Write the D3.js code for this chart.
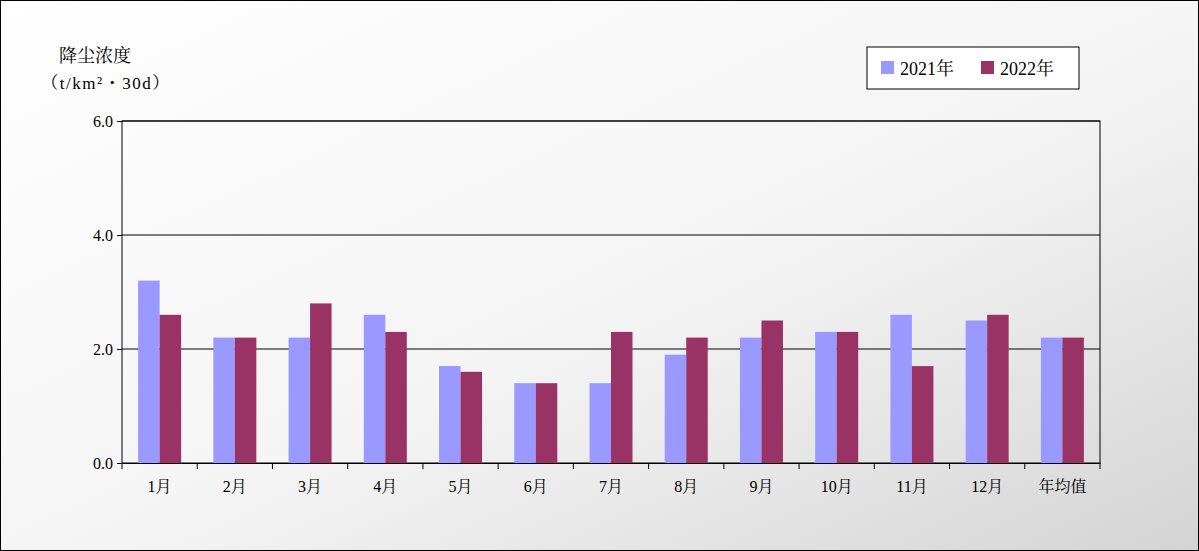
<!DOCTYPE html>
<html><head><meta charset="utf-8">
<script src="https://cdn.jsdelivr.net/npm/d3@7"></script>
<style>body{margin:0;background:#fff}svg{display:block}text{font-family:"Liberation Serif","Noto Serif CJK SC","Noto Sans CJK SC",serif}</style>
</head><body><svg width="1199" height="551"></svg>
<script>
const categories = ["1月","2月","3月","4月","5月","6月","7月","8月","9月","10月","11月","12月","年均值"];
const values2021 = [3.2,2.2,2.2,2.6,1.7,1.4,1.4,1.9,2.2,2.3,2.6,2.5,2.2];
const values2022 = [2.6,2.2,2.8,2.3,1.6,1.4,2.3,2.2,2.5,2.3,1.7,2.6,2.2];
const seriesNames = ["2021年","2022年"];
const colors = ["#9999FF","#993366"];
const yTicks = [0,2,4,6];

const svg = d3.select("svg");
const defs = svg.append("defs");
const grad = defs.append("linearGradient").attr("id","bg").attr("x1","0").attr("y1","0").attr("x2","1").attr("y2","1");
grad.append("stop").attr("offset","0%").attr("stop-color","#ffffff");
grad.append("stop").attr("offset","55%").attr("stop-color","#f4f4f4");
grad.append("stop").attr("offset","100%").attr("stop-color","#d4d4d4");
svg.append("rect").attr("x",0.5).attr("y",0.5).attr("width",1198).attr("height",550)
  .attr("fill","url(#bg)").attr("stroke","#000");

const m = {left:122, right:1100, top:121, bottom:463};
const x = d3.scaleBand().domain(categories).range([m.left,m.right]);
const y = d3.scaleLinear().domain([0,6]).range([m.bottom,m.top]);
const bw = 21.5;

svg.append("rect").attr("x",m.left).attr("y",m.top).attr("width",m.right-m.left).attr("height",m.bottom-m.top)
  .attr("fill","none").attr("stroke","#000");
svg.selectAll(".grid").data(yTicks.slice(1)).join("line")
  .attr("x1",m.left).attr("x2",m.right).attr("y1",d=>y(d)).attr("y2",d=>y(d)).attr("stroke","#000");

[values2021, values2022].forEach((vals,si)=>{
  svg.append("g").selectAll("rect").data(vals).join("rect")
    .attr("x",(d,i)=>x(categories[i])+x.bandwidth()/2-bw+si*bw)
    .attr("y",d=>y(d)).attr("width",bw).attr("height",d=>y(0)-y(d))
    .attr("fill",colors[si]);
});

const yAxis = svg.append("g").attr("transform",`translate(${m.left},0)`)
  .call(d3.axisLeft(y).tickValues(yTicks).tickFormat(d3.format(".1f")).tickSize(5).tickPadding(4));
yAxis.select(".domain").remove();
yAxis.selectAll("text").attr("font-size",16).attr("fill","#000");

const xAxis = svg.append("g").attr("transform",`translate(0,${m.bottom})`)
  .call(d3.axisBottom(x).tickSize(0).tickPadding(18));
xAxis.select(".domain").attr("stroke","#000");
xAxis.selectAll("text").attr("font-size",16).attr("fill","#000");
xAxis.selectAll(".sep").data(d3.range(categories.length+1)).join("line")
  .attr("x1",i=>m.left+i*x.step()).attr("x2",i=>m.left+i*x.step()).attr("y1",0).attr("y2",6).attr("stroke","#000");

svg.append("text").attr("x",95).attr("y",62).attr("text-anchor","middle").attr("font-size",18).text("降尘浓度");
svg.append("text").attr("x",106).attr("y",89).attr("text-anchor","middle").attr("font-size",17)
  .attr("letter-spacing",1.5).text("（t/km²・30d）");

const lg = svg.append("g");
lg.append("rect").attr("x",867).attr("y",47).attr("width",212).attr("height",42).attr("fill","#fff").attr("stroke","#000");
seriesNames.forEach((n,i)=>{
  lg.append("rect").attr("x",881+i*100).attr("y",61).attr("width",13).attr("height",13).attr("fill",colors[i]);
  lg.append("text").attr("x",900+i*100).attr("y",75).attr("font-size",18).text(n);
});
</script></body></html>
